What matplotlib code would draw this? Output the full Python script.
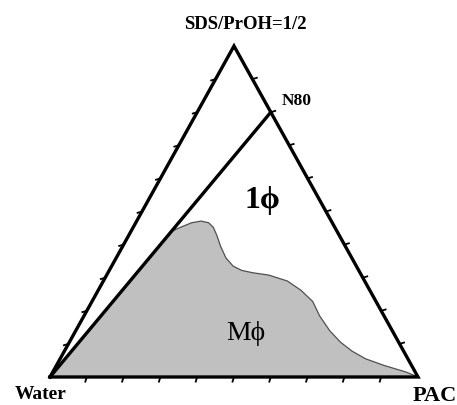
import matplotlib.pyplot as plt

# compositions as fractions: surfactant (SDS/PrOH) and PAC, water is the rest
n80_surf = 0.8
n80_pac = 0.2
tick_vals = [0.1, 0.2, 0.3, 0.4, 0.5, 0.6, 0.7, 0.8, 0.9]

# boundary of the multiphase region (Mphi), from water to PAC
bound_surf = [0.0, 0.44, 0.452, 0.466, 0.471, 0.466, 0.452, 0.426, 0.395, 0.36,
              0.335, 0.322, 0.315, 0.308, 0.29, 0.262, 0.228, 0.185, 0.14, 0.105,
              0.078, 0.055, 0.035, 0.015, 0.0]
bound_pac = [0.0, 0.11, 0.128, 0.152, 0.175, 0.198, 0.218, 0.241, 0.266, 0.298,
             0.33, 0.36, 0.393, 0.44, 0.5, 0.551, 0.6, 0.64, 0.69, 0.737,
             0.782, 0.83, 0.89, 0.96, 1.0]


def tern(surf, pac):
    # cartesian position of a composition in the triangle
    return pac + 0.5 * surf, surf


fig = plt.figure(figsize=(4.57, 4.06), dpi=100)
ax = fig.add_axes([0, 0, 1, 1])
ax.set_xlim(-50 / 368, 407 / 368)
ax.set_ylim(-28 / 331, 378 / 331)
ax.axis('off')

# shaded multiphase region
bx, by = zip(*[tern(s, p) for s, p in zip(bound_surf, bound_pac)])
ax.fill(bx, by, facecolor='#c0c0c0', edgecolor='#505050', lw=0.9, zorder=1)

# triangle edges
corners = [tern(0, 0), tern(0, 1), tern(1, 0), tern(0, 0)]
cx, cy = zip(*corners)
ax.plot(cx, cy, color='black', lw=2.4, zorder=3, solid_joinstyle='miter')

# dilution line water -> N80
nx, ny = tern(n80_surf, n80_pac)
ax.plot([0, nx], [0, ny], color='black', lw=2.4, zorder=3)

# tick marks
for t in tick_vals:
    x, y = tern(0, t)
    ax.plot([x, x - 0.004], [y, y - 0.014], color='black', lw=1.3, zorder=3)
    x, y = tern(t, 0)
    ax.plot([x, x - 0.012], [y, y - 0.004], color='black', lw=1.3, zorder=3)
    x, y = tern(t, 1 - t)
    ax.plot([x, x + 0.012], [y, y + 0.004], color='black', lw=1.3, zorder=3)

# labels
bold = dict(family='Liberation Serif', weight='bold', ha='center', va='center')
ax.text(0.53, 1.068, 'SDS/PrOH=1/2', fontsize=13.5, **bold)
ax.text(nx + 0.07, ny + 0.037, 'N80', fontsize=12.5, **bold)
ax.text(-0.026, -0.05, 'Water', fontsize=14, **bold)
ax.text(1.045, -0.054, 'PAC', fontsize=16, **bold)
ax.text(0.578, 0.535, '1ϕ', fontsize=23, **bold)
ax.text(0.531, 0.135, 'Mϕ', family='Liberation Serif',
        fontsize=20, ha='center', va='center')

plt.savefig('out.png', dpi=100)
plt.close()
